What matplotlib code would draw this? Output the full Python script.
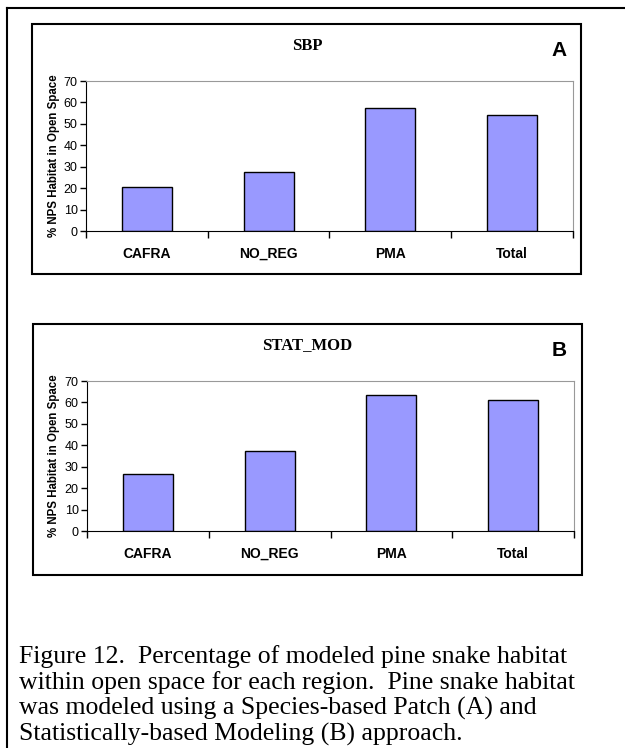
import numpy as np
import matplotlib
matplotlib.use('Agg')
import matplotlib.pyplot as plt
from matplotlib.patches import Rectangle
from matplotlib.lines import Line2D

# data
regions = ['CAFRA', 'NO_REG', 'PMA', 'Total']
sbp_vals = [20.5, 27.4, 57.5, 54.1]
stat_vals = [26.4, 37.2, 63.6, 61.3]
yticks = [0, 10, 20, 30, 40, 50, 60, 70]
titles = ['SBP', 'STAT_MOD']
letters = ['A', 'B']
ylab = '% NPS Habitat in Open Space'
caption = ['Figure 12.  Percentage of modeled pine snake habitat',
           'within open space for each region.  Pine snake habitat',
           'was modeled using a Species-based Patch (A) and',
           'Statistically-based Modeling (B) approach.']

W, H = 625, 748
fig = plt.figure(figsize=(W / 100, H / 100), dpi=100)

def fx(x):
    return x / W

def fy(y):
    return 1 - y / H

# outer frame (only top and left edges visible)
fig.add_artist(Line2D([fx(7), fx(7)], [fy(8), fy(748)], color='black', lw=1.5))
fig.add_artist(Line2D([fx(7), fx(625)], [fy(8), fy(8)], color='black', lw=1.5))

sans = 'Liberation Sans'
serif = 'Liberation Serif'

panels = [
    # box (x0,y0,x1,y1), plot area (left, top, right, bottom)
    ((32, 24, 581, 274), (86, 81, 573, 231), sbp_vals, 0),
    ((32.5, 324, 582, 575), (87, 381, 574, 531), stat_vals, 300),
]

for i, (box, area, vals, off) in enumerate(panels):
    x0, y0, x1, y1 = box
    fig.add_artist(Rectangle((fx(x0), fy(y1)), fx(x1) - fx(x0), fy(y0) - fy(y1),
                             fill=False, edgecolor='black', lw=1.5))
    l, t, r, b = area
    ax = fig.add_axes([fx(l), fy(b), fx(r) - fx(l), fy(t) - fy(b)])
    x = np.arange(len(regions))
    ax.bar(x, vals, width=0.41, color='#9999FF', edgecolor='black', linewidth=1)
    ax.set_xlim(-0.5, 3.5)
    ax.set_ylim(0, 70)
    ax.set_yticks(yticks)
    ax.set_yticklabels([str(v) for v in yticks], fontfamily=sans, fontsize=9)
    ax.set_xticks(x)
    ax.set_xticklabels(regions, fontfamily=sans, fontsize=10, fontweight='bold',
                       va='center_baseline')
    ax.set_xticks(np.arange(-0.5, 4, 1), minor=True)
    ax.tick_params(axis='x', which='major', length=0, pad=15.5)
    ax.tick_params(axis='x', which='minor', length=5, direction='out', width=1)
    ax.tick_params(axis='y', length=4, direction='out', width=1, pad=2)
    for s in ['top', 'right']:
        ax.spines[s].set_color('#999999')
    for s in ['left', 'bottom']:
        ax.spines[s].set_color('black')
    ax.set_ylabel(ylab, fontfamily=sans, fontsize=8.3, fontweight='bold', labelpad=3)
    fig.text(fx(307), fy(45.5 + off), titles[i], fontfamily=serif, fontsize=12,
             fontweight='bold', ha='center', va='center')
    fig.text(fx(559), fy(51 + off), letters[i], fontfamily=sans, fontsize=15,
             fontweight='bold', ha='center', va='center')

# caption below the panels
for k, line in enumerate(caption):
    fig.text(fx(19), fy(663 + 26 * k), line, fontfamily=serif, fontsize=18.5,
             ha='left', va='baseline')

fig.savefig('out.png', dpi=100)
